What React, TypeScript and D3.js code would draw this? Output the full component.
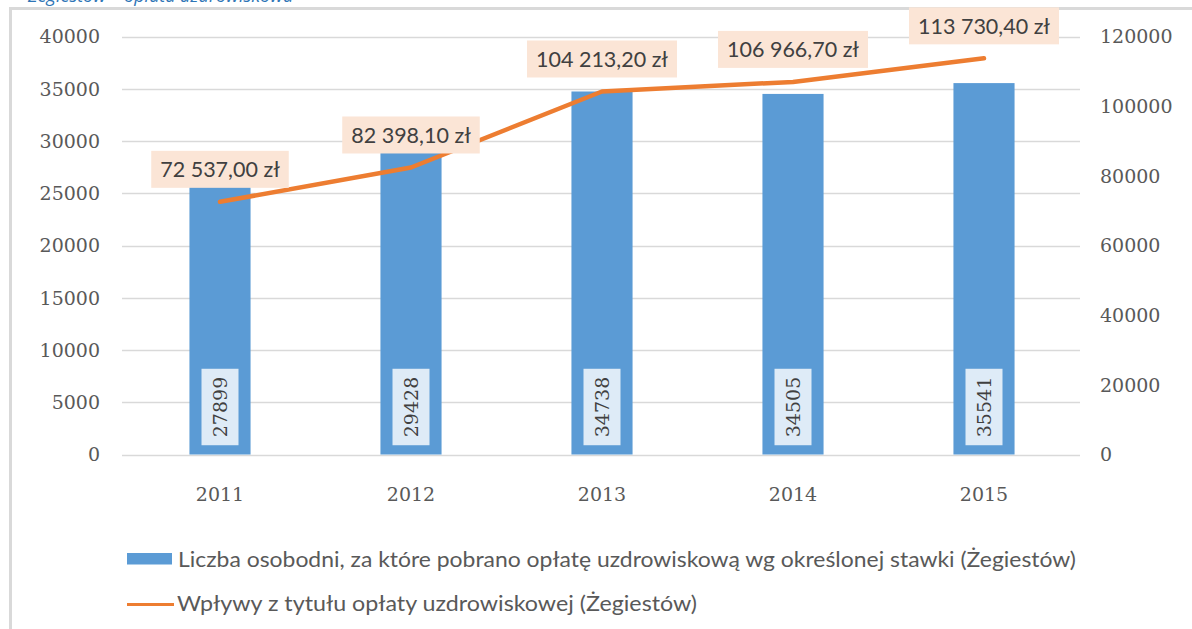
import React, { useEffect, useRef } from "react";
import * as d3 from "d3";

const years = ["2011", "2012", "2013", "2014", "2015"];
const nights = [27899, 29428, 34738, 34505, 35541];
const revenue = [72537.0, 82398.1, 104213.2, 106966.7, 113730.4];
const leftTicks = [0, 5000, 10000, 15000, 20000, 25000, 30000, 35000, 40000];
const rightTicks = [0, 20000, 40000, 60000, 80000, 100000, 120000];
const barSeriesName = "Liczba osobodni, za które pobrano opłatę uzdrowiskową wg określonej stawki (Żegiestów)";
const lineSeriesName = "Wpływy z tytułu opłaty uzdrowiskowej (Żegiestów)";
const cutCaption = "Żegiestów – opłata uzdrowiskowa";

const W = 1192;
const H = 629;

export default function App() {
  const ref = useRef<SVGSVGElement>(null);

  useEffect(() => {
    const svg = d3.select(ref.current);
    svg.selectAll("*").remove();

    const serif = "'DejaVu Serif', serif";
    const sans = "Lato, 'Open Sans', sans-serif";
    const grey = "#595959";

    const x = d3.scaleBand<string>().domain(years).range([124.5, 1079.5]).padding(0);
    const yL = d3.scaleLinear().domain([0, 40000]).range([454.5, 36.5]);
    const yR = d3.scaleLinear().domain([0, 120000]).range([454.5, 36.5]);
    const cx = (y: string) => (x(y) as number) + x.bandwidth() / 2;
    const barW = x.bandwidth() * 0.32;

    const locale = d3.formatLocale({ decimal: ",", thousands: " ", grouping: [3], currency: ["", " zł"] });
    const fmt = locale.format(",.2f");

    svg.append("rect").attr("width", W).attr("height", H).attr("fill", "#fff");

    // cut caption at top (cut off in the reference as well)
    svg.append("text").attr("x", 28).attr("y", 1.5).attr("font-family", "'Open Sans', sans-serif")
      .attr("font-style", "italic").attr("font-size", 18).attr("fill", "#2e75b6").text(cutCaption);

    // frame
    svg.append("rect").attr("x", 10.5).attr("y", 8.5).attr("width", 1300).attr("height", 800)
      .attr("fill", "#fff").attr("stroke", "#d9d9d9").attr("stroke-width", 3);

    // grid
    svg.append("g").selectAll("line").data(leftTicks).join("line")
      .attr("x1", 122).attr("x2", 1080)
      .attr("y1", d => Math.round(yL(d)) + 0.5).attr("y2", d => Math.round(yL(d)) + 0.5)
      .attr("stroke", "#d9d9d9").attr("stroke-width", 1.3);

    // left ticks
    svg.append("g").selectAll("text").data(leftTicks).join("text")
      .attr("x", 100).attr("y", d => yL(d)).attr("dy", "0.36em").attr("text-anchor", "end")
      .attr("font-family", serif).attr("font-size", 19).attr("fill", grey)
      .text(d => String(d));

    // right ticks
    svg.append("g").selectAll("text").data(rightTicks).join("text")
      .attr("x", 1100).attr("y", d => yR(d)).attr("dy", "0.36em").attr("text-anchor", "start")
      .attr("font-family", serif).attr("font-size", 19).attr("fill", grey)
      .text(d => String(d));

    // x labels
    svg.append("g").selectAll("text").data(years).join("text")
      .attr("x", d => cx(d)).attr("y", 501).attr("text-anchor", "middle")
      .attr("font-family", serif).attr("font-size", 19).attr("fill", grey)
      .text(d => d);

    // bars
    svg.append("g").selectAll("rect").data(nights).join("rect")
      .attr("x", (d, i) => cx(years[i]) - barW / 2).attr("width", barW)
      .attr("y", d => yL(d)).attr("height", d => yL(0) - yL(d))
      .attr("fill", "#5b9bd5");

    // bar labels (inside base, rotated)
    const bl = svg.append("g");
    nights.forEach((v, i) => {
      const c = cx(years[i]);
      const g = bl.append("g");
      const t = g.append("text").attr("transform", `translate(${c},407) rotate(-90)`)
        .attr("text-anchor", "middle").attr("dy", "0.36em")
        .attr("font-family", serif).attr("font-size", 19).attr("fill", "#404040").text(String(v));
      const len = (t.node() as SVGTextElement).getComputedTextLength();
      const bh = len + 16;
      g.insert("rect", "text").attr("x", c - 18.5).attr("y", 407 - bh / 2).attr("width", 37).attr("height", bh)
        .attr("fill", "#deebf7");
    });

    // line
    const line = d3.line<number>().x((d, i) => cx(years[i])).y(d => yR(d));
    svg.append("path").datum(revenue).attr("d", line).attr("fill", "none")
      .attr("stroke", "#ed7d31").attr("stroke-width", 4.5).attr("stroke-linecap", "round").attr("stroke-linejoin", "round");

    // line labels
    const ll = svg.append("g");
    revenue.forEach((v, i) => {
      const c = cx(years[i]);
      const py = yR(v);
      const bottom = py - 14;
      const g = ll.append("g");
      const t = g.append("text").attr("x", c).attr("y", bottom - 18.5).attr("dy", "0.36em")
        .attr("text-anchor", "middle").attr("font-family", sans).attr("font-size", 21.5)
        .attr("fill", "#404040").text(fmt(v) + " zł");
      const len = (t.node() as SVGTextElement).getComputedTextLength();
      const bw = len + 18;
      g.insert("rect", "text").attr("x", c - bw / 2).attr("y", bottom - 37).attr("width", bw).attr("height", 37)
        .attr("fill", "#fbe5d6");
    });

    // legend
    const lg = svg.append("g");
    lg.append("rect").attr("x", 127).attr("y", 553).attr("width", 45).attr("height", 11.5).attr("fill", "#5b9bd5");
    lg.append("text").attr("x", 178).attr("y", 566.5).attr("font-family", sans).attr("font-size", 20.5)
      .attr("fill", grey).attr("textLength", 898).attr("lengthAdjust", "spacingAndGlyphs").text(barSeriesName);
    lg.append("line").attr("x1", 127).attr("x2", 174).attr("y1", 604.5).attr("y2", 604.5)
      .attr("stroke", "#ed7d31").attr("stroke-width", 3);
    lg.append("text").attr("x", 177).attr("y", 611).attr("font-family", sans).attr("font-size", 20.5)
      .attr("fill", grey).attr("textLength", 520).attr("lengthAdjust", "spacingAndGlyphs").text(lineSeriesName);
  }, []);

  return (
    <svg ref={ref} width={W} height={H} style={{ position: "absolute", left: 0, top: 0, display: "block" }} />
  );
}
